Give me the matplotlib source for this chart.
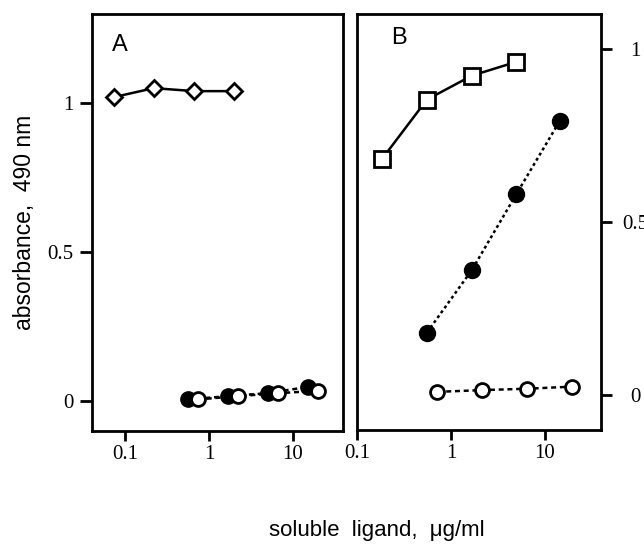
import matplotlib
matplotlib.use("Agg")
import matplotlib.pyplot as plt

# Panel A data
a_diamond_x = [0.074, 0.22, 0.67, 2.0]
a_diamond_y = [1.021, 1.051, 1.041, 1.041]
a_filled_x = [0.56, 1.67, 5.0, 15.0]
a_filled_y = [0.006, 0.017, 0.027, 0.048]
a_open_x = [0.74, 2.2, 6.7, 20.0]
a_open_y = [0.006, 0.017, 0.027, 0.035]

# Panel B data
b_square_x = [0.185, 0.556, 1.67, 5.0]
b_square_y = [0.682, 0.853, 0.922, 0.962]
b_filled_x = [0.556, 1.67, 5.0, 14.5]
b_filled_y = [0.181, 0.361, 0.581, 0.792]
b_open_x = [0.72, 2.15, 6.5, 19.5]
b_open_y = [0.010, 0.015, 0.019, 0.025]

x_ticks = [0.1, 1, 10]
x_ticklabels = ["0.1", "1", "10"]
y_ticks = [0, 0.5, 1]
y_ticklabels = ["0", "0.5", "1"]

serif = "Liberation Serif"
sans = "Liberation Sans"

fig = plt.figure(figsize=(6.44, 5.46), dpi=100)
axA = fig.add_axes([0.1429, 0.2106, 0.3897, 0.7638])
axB = fig.add_axes([0.5543, 0.2125, 0.3789, 0.7619])

lw = 1.8
for ax in (axA, axB):
    ax.set_xscale("log")
    for s in ax.spines.values():
        s.set_linewidth(2.0)
    ax.minorticks_off()
    ax.set_xticks(x_ticks)
    ax.set_xticklabels(x_ticklabels, fontfamily=serif, fontsize=15)
    ax.tick_params(axis="x", direction="out", length=7, width=2, pad=3)

# Panel A
axA.plot(a_diamond_x, a_diamond_y, "-", color="black", lw=lw, marker="D",
         ms=8.5, mfc="white", mec="black", mew=2)
axA.plot(a_filled_x, a_filled_y, linestyle=(0, (2, 1.5)), color="black", lw=lw,
         marker="o", ms=11, mfc="black", mec="black")
axA.plot(a_open_x, a_open_y, linestyle=(0, (2, 1.5)), color="black", lw=lw,
         marker="o", ms=10, mfc="white", mec="black", mew=2)
axA.set_xlim(0.0405, 39.4)
axA.set_ylim(-0.1, 1.3)
axA.set_yticks(y_ticks)
axA.set_yticklabels(y_ticklabels, fontfamily=serif, fontsize=15)
axA.tick_params(axis="y", direction="out", length=8.5, width=2, pad=5)
axA.text(0.08, 0.9, "A", transform=axA.transAxes, fontfamily=sans,
         fontsize=17, va="bottom", ha="left")
axA.set_ylabel("absorbance,  490 nm", fontfamily=sans, fontsize=16.5, labelpad=8)

# Panel B
axB.plot(b_square_x, b_square_y, "-", color="black", lw=lw, marker="s",
         ms=11, mfc="white", mec="black", mew=2)
axB.plot(b_filled_x, b_filled_y, linestyle=(0, (1.2, 1.2)), color="black", lw=lw,
         marker="o", ms=11.5, mfc="black", mec="black")
axB.plot(b_open_x, b_open_y, linestyle=(0, (2, 1.5)), color="black", lw=lw,
         marker="o", ms=10, mfc="white", mec="black", mew=2)
axB.set_xlim(0.1, 39.7)
axB.set_ylim(-0.1, 1.1)
axB.yaxis.tick_right()
axB.set_yticks(y_ticks)
axB.set_yticklabels(y_ticklabels, fontfamily=serif, fontsize=15)
axB.tick_params(axis="y", direction="out", length=8, width=2, pad=17)
for t in axB.get_yticklabels():
    t.set_horizontalalignment("center")
axB.text(0.14, 0.915, "B", transform=axB.transAxes, fontfamily=sans,
         fontsize=17, va="bottom", ha="left")

fig.text(0.585, 0.01, "soluble  ligand,  \u03bcg/ml", fontfamily=sans,
         fontsize=16, ha="center", va="bottom")

fig.savefig("out.png", dpi=100)
